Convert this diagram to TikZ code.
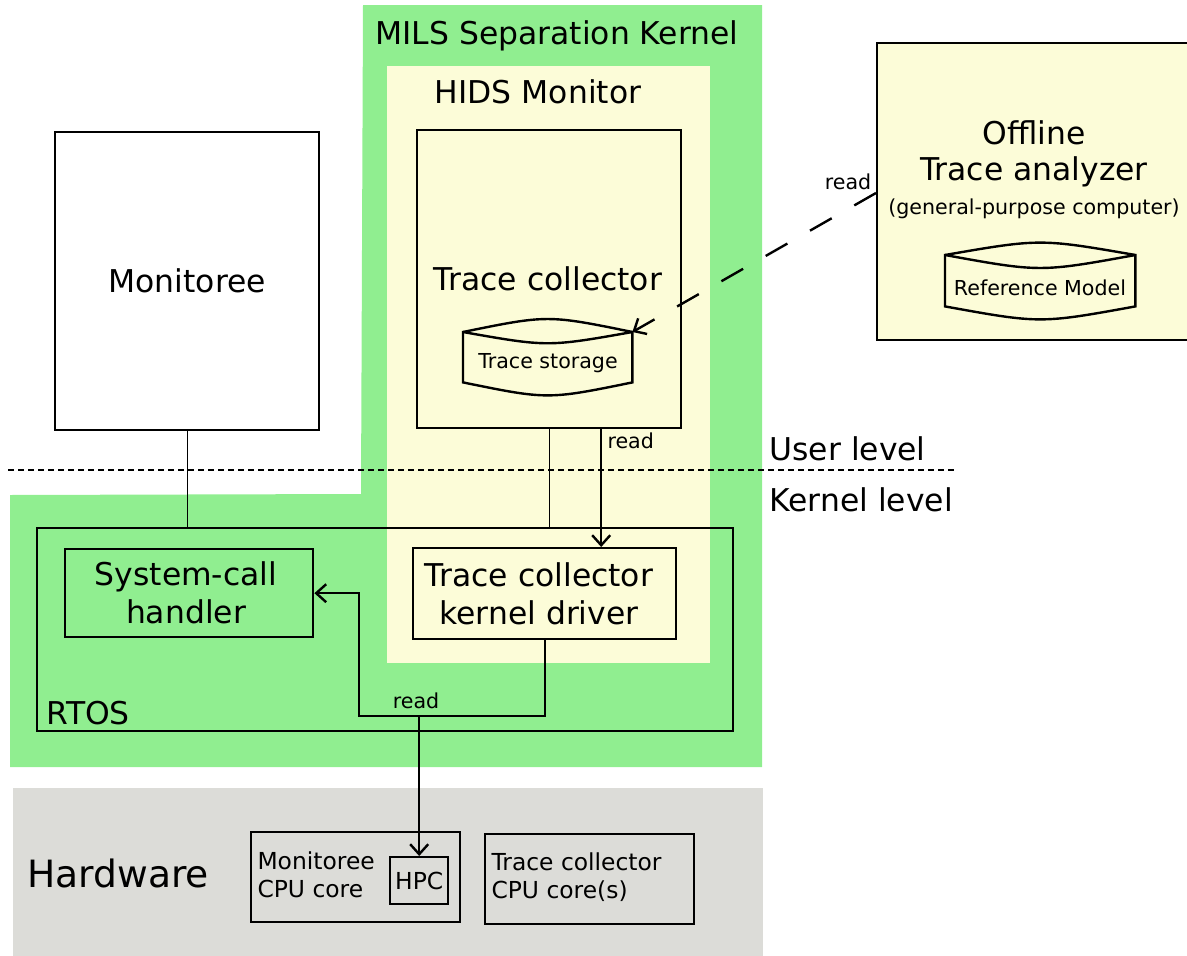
\documentclass[tikz,border=0pt]{standalone}
\usepackage{fontspec}
\setmainfont{DejaVu Sans}
\usetikzlibrary{arrows.meta,calc}
\definecolor{sepgreen}{HTML}{90EE90}
\definecolor{monyellow}{HTML}{FCFCD8}
\definecolor{hwgray}{HTML}{DCDCD8}

\begin{document}
\begin{tikzpicture}[x=1pt,y=-1pt,line join=miter,
  box/.style={draw,line width=2.4pt,inner sep=0pt,anchor=north west},
  big/.style={font=\fontsize{31.4}{38.5}\selectfont},
  huge/.style={font=\fontsize{37.6}{44}\selectfont},
  mid/.style={font=\fontsize{23.4}{28}\selectfont},
  small/.style={font=\fontsize{20.6}{24}\selectfont},
  thinline/.style={line width=1pt},
  arr/.style={line width=2.4pt,-{Straight Barb[length=10pt,width=18pt,line width=2.4pt]}},
  drum/.style={line width=2.4pt}
]
\useasboundingbox (0,0) rectangle (1187,956);
\clip (0,0) rectangle (1187,956);

% partitions and platforms
\fill[sepgreen] (363,5) -- (762,5) -- (762,767) -- (10,767) -- (10,495) -- (361,494) -- cycle;
\fill[hwgray] (13,788) rectangle (763,956);
\fill[monyellow] (387,66) rectangle (710,663);

\node[big] (mils) at (557,36) {MILS Separation Kernel};
\node[big] (hids) at (538,92) {HIDS Monitor};

% user-level components
\node[box,fill=white,minimum width=264pt,minimum height=298pt] (monitoree) at (54,131) {};
\node[big] at (monitoree.center) {Monitoree};

\node[box,fill=monyellow,minimum width=264pt,minimum height=298pt] (collector) at (416,129) {};
\node[big] (collectortxt) at (548,279) {Trace collector};

% trace storage drum
\node[inner sep=0pt,minimum width=169pt,minimum height=50pt,anchor=north west] (store) at (463,332) {};
\draw[drum,fill=monyellow]
  (store.north west) .. controls ($(store.north)+(0,-17.3)$) .. (store.north east)
  -- (store.south east) .. controls ($(store.south)+(0,17.3)$) .. (store.south west) -- cycle;
\draw[drum] (store.north west) .. controls ($(store.north)+(0,15)$) .. (store.north east);
\node[small] (storetxt) at (548,363) {Trace storage};

% offline analyzer
\node[box,fill=monyellow,minimum width=330pt,minimum height=297pt] (analyzer) at (876,42) {};
\node[big] (offl) at (1034,133) {Offline};
\node[big] (tan) at (1034,172) {Trace analyzer};
\node[small] (gpc) at (1034,209) {(general-purpose computer)};
\node[inner sep=0pt,minimum width=190pt,minimum height=51pt,anchor=north west] (refm) at (945,255) {};
\draw[drum,fill=monyellow]
  (refm.north west) .. controls ($(refm.north)+(0,-16.5)$) .. (refm.north east)
  -- (refm.south east) .. controls ($(refm.south)+(0,17.3)$) .. (refm.south west) -- cycle;
\draw[drum] (refm.north west) .. controls ($(refm.north)+(0,17.3)$) .. (refm.north east);
\node[small] (refmtxt) at (1040,288) {Reference Model};

\coordinate (anaport) at (876,193);
\draw[arr,dash pattern=on 25pt off 26pt] (anaport) -- (store.north east);
\node[small] (readoff) at (848,182) {read};

% privilege boundary
\draw[line width=2.6pt,dash pattern=on 6pt off 4pt] (8,470) -- (957,470);
\node[big,anchor=west] (ulev) at (766,449) {User level};
\node[big,anchor=west] (klev) at (766,500) {Kernel level};

% kernel-level components
\node[box,minimum width=696pt,minimum height=203pt] (rtos) at (36,527) {};
\node[big,anchor=west] (rtostxt) at (43,713) {RTOS};

\node[box,minimum width=248pt,minimum height=88pt] (handler) at (64,548) {};
\node[big,align=center] (handlertxt) at (186,593) {System-call\\ handler};

\node[box,fill=monyellow,minimum width=263pt,minimum height=91pt] (driver) at (412,547) {};
\node[big,align=center] (drivertxt) at (539,594) {Trace collector\\ kernel driver};

% hardware
\node[huge,anchor=west] (hwtxt) at (24,873) {Hardware};
\node[box,minimum width=209pt,minimum height=90pt] (mcore) at (250,831) {};
\node[mid,anchor=north west,align=left] (mcoretxt) at (254,848) {Monitoree\\ CPU core};
\node[box,minimum width=58pt,minimum height=47pt] (hpc) at (389,856) {};
\node[mid] (hpctxt) at (hpc.center) {HPC};
\node[box,minimum width=209pt,minimum height=90pt] (tcore) at (484,833) {};
\node[mid,anchor=north west,align=left] (tcoretxt) at (488,849) {Trace collector\\ CPU core(s)};

% connectors
\draw[thinline] (monitoree.south) -- (monitoree.south |- rtos.north);
\draw[thinline] (collector.south) -- (collector.south |- rtos.north);
\draw[arr] ([xshift=52pt]collector.south) -- ([xshift=52pt]collector.south |- driver.north);
\node[small,anchor=west] (readtc) at (604,441) {read};

\coordinate (turn) at (359,716);
\draw[arr] (driver.south) |- (turn) |- (handler.east);
\draw[arr] (hpc.north |- turn) -- (hpc.north);
\node[small] (readhw) at (416,701) {read};
\end{tikzpicture}
\end{document}
